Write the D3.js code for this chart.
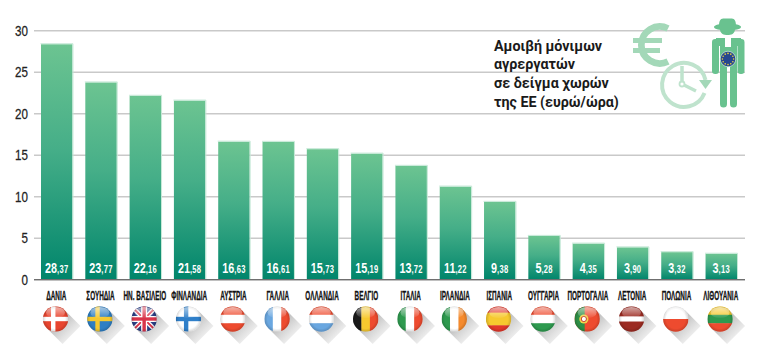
<!DOCTYPE html>
<html><head><meta charset="utf-8">
<script src="https://cdn.jsdelivr.net/npm/d3@7/dist/d3.min.js"></script>
<style>html,body{margin:0;padding:0;background:#fff}svg{display:block}</style>
</head><body><svg id="c" width="778" height="362"></svg>
<script>
const categories=["ΔΑΝΙΑ","ΣΟΥΗΔΙΑ","ΗΝ. ΒΑΣΙΛΕΙΟ","ΦΙΝΛΑΝΔΙΑ","ΑΥΣΤΡΙΑ","ΓΑΛΛΙΑ","ΟΛΛΑΝΔΙΑ","ΒΕΛΓΙΟ","ΙΤΑΛΙΑ","ΙΡΛΑΝΔΙΑ","ΙΣΠΑΝΙΑ","ΟΥΓΓΑΡΙΑ","ΠΟΡΤΟΓΑΛΙΑ","ΛΕΤΟΝΙΑ","ΠΟΛΩΝΙΑ","ΛΙΘΟΥΑΝΙΑ"];
const values=[28.37,23.77,22.16,21.58,16.63,16.61,15.73,15.19,13.72,11.22,9.38,5.28,4.35,3.90,3.32,3.13];
const yTicks=[0,5,10,15,20,25,30];
const titleLines=["Αμοιβή μόνιμων","αγρεργατών","σε δείγμα χωρών","της ΕΕ (ευρώ/ώρα)"];
const flagKinds=["cross","cross","uk","cross","h","v","h","v","v","v","h","h","pt","h","h","h"];
const flagColors=[["#e8452f","#fff"],["#2e7fc4","#f6c92f"],[],["#fff","#2f7fc9"],["#ee4b2f","#fff","#ee4b2f"],["#6aa7e0","#fff","#ee4b2f"],["#ee4b2f","#fff","#6aa7e0"],["#1a1a1a","#f6c92f","#ee4b2f"],["#2e9a4f","#fff","#ee4b2f"],["#2e9a4f","#fff","#f58a2c"],["#e2362a","#f6c92f","#e2362a"],["#ee4b2f","#fff","#2e9a4f"],["#2e8f46","#ee4b2f"],["#9c2b22","#fff","#9c2b22"],["#fff","#ee4b2f"],["#f6c92f","#2e9a4f","#ee4b2f"]];
const flagWeights={10:[1,2,1],13:[2,1,2]};

const svg=d3.select("#c");
const defs=svg.append("defs");
const y=d3.scaleLinear().domain([0,30]).range([279.7,30.7]);
const x=d3.scaleBand().domain(categories).range([41,737]).paddingInner(0.29);
const narrow="'Liberation Sans Narrow','Liberation Sans',sans-serif";

const g=defs.append("linearGradient").attr("id","bar").attr("x1",0).attr("x2",0).attr("y1",0).attr("y2",1);
g.append("stop").attr("offset",0).attr("stop-color","#6cc491");
g.append("stop").attr("offset",.45).attr("stop-color","#45ae88");
g.append("stop").attr("offset",1).attr("stop-color","#00856b");
const sh=defs.append("linearGradient").attr("id","shadow").attr("x1",0).attr("x2",1).attr("y1",0).attr("y2",1);
sh.append("stop").attr("offset",.4).attr("stop-color","#888").attr("stop-opacity",.5);
sh.append("stop").attr("offset",.95).attr("stop-color","#aaa").attr("stop-opacity",0);
const gl=defs.append("linearGradient").attr("id","gloss").attr("x1",0).attr("x2",0).attr("y1",0).attr("y2",1);
gl.append("stop").attr("offset",0).attr("stop-color","#fff").attr("stop-opacity",.6);
gl.append("stop").attr("offset",1).attr("stop-color","#fff").attr("stop-opacity",.05);
const rim=defs.append("radialGradient").attr("id","rim");
rim.append("stop").attr("offset",.75).attr("stop-color","#000").attr("stop-opacity",0);
rim.append("stop").attr("offset",1).attr("stop-color","#000").attr("stop-opacity",.16);
defs.append("clipPath").attr("id","disc").append("circle").attr("r",12.7);

// grid
svg.append("g").selectAll("line").data(yTicks).join("line")
  .attr("x1",34).attr("x2",745).attr("y1",d=>y(d)).attr("y2",d=>y(d))
  .attr("stroke",d=>d===0?"#6f6f6f":"#c9c9c9").attr("stroke-width",d=>d===0?1.2:1.4);
svg.append("g").selectAll("text").data(yTicks).join("text")
  .attr("transform",d=>`translate(28,${y(d)+5}) scale(.8,1)`)
  .attr("text-anchor","end").attr("font-family",narrow).attr("font-size",14.5).attr("fill","#222")
  .attr("stroke","#222").attr("stroke-width",.25).text(d=>d);

// bars
svg.append("g").selectAll("rect").data(values).join("rect")
  .attr("x",(d,i)=>x(categories[i])).attr("width",x.bandwidth())
  .attr("y",d=>y(d)).attr("height",d=>y(0)-y(d)).attr("fill","url(#bar)");
svg.append("g").selectAll("path").data(values).join("path")
  .attr("d",(d,i)=>{const a=x(categories[i])+x.bandwidth()+.5;return `M${a-x.bandwidth()-1} ${y(d)-.5}H${a}V${y(0)}`})
  .attr("fill","none").attr("stroke","#c4e8d6").attr("stroke-width",1);
svg.append("line").attr("x1",34).attr("x2",745).attr("y1",y(0)).attr("y2",y(0)).attr("stroke","#6f6f6f").attr("stroke-width",1.2);

// value labels
const vl=svg.append("g").selectAll("text").data(values).join("text")
  .attr("transform",(d,i)=>`translate(${x(categories[i])+x.bandwidth()/2},273) scale(.72,1)`)
  .attr("text-anchor","middle").attr("font-family",narrow).attr("font-weight",700).attr("fill","#fff");
vl.append("tspan").attr("font-size",15).text(d=>d.toFixed(2).split(".")[0]);
vl.append("tspan").attr("font-size",10.5).attr("letter-spacing",.4).text(d=>","+d.toFixed(2).split(".")[1]);

// category labels
svg.append("g").selectAll("text").data(categories).join("text")
  .attr("transform",(d,i)=>`translate(${x(d)+x.bandwidth()/2-.5},300.3) scale(.53,1)`)
  .attr("text-anchor","middle").attr("font-family",narrow).attr("font-weight",700).attr("font-size",12)
  .attr("fill","#111").attr("stroke","#111").attr("stroke-width",.3).text(d=>d);

// flags
const R=12.7;
const flags=svg.append("g").selectAll("g").data(categories).join("g")
  .attr("transform",d=>`translate(${x(d)+x.bandwidth()/2-1.2},319)`);
flags.each(function(d,i){
  const f=d3.select(this), k=flagKinds[i], c=flagColors[i];
  const q=R*Math.SQRT1_2, L=16;
  f.append("path").attr("d",`M${q} ${-q}L${q+L} ${-q+L}L${-q+L} ${q+L}L${-q} ${q}Z`).attr("fill","url(#shadow)");
  const b=f.append("g").attr("clip-path","url(#disc)");
  if(k==="h"||k==="v"){
    const w=flagWeights[i]||c.map(()=>1), t=d3.sum(w); let p=-R;
    c.forEach((col,j)=>{const s=2*R*w[j]/t;
      if(k==="h")b.append("rect").attr("x",-R).attr("y",p).attr("width",2*R).attr("height",s+.3).attr("fill",col);
      else b.append("rect").attr("x",p).attr("y",-R).attr("width",s+.3).attr("height",2*R).attr("fill",col);
      p+=s;});
  } else if(k==="cross"){
    b.append("rect").attr("x",-R).attr("y",-R).attr("width",2*R).attr("height",2*R).attr("fill",c[0]);
    b.append("rect").attr("x",-R).attr("y",-2.2).attr("width",2*R).attr("height",4.4).attr("fill",c[1]);
    b.append("rect").attr("x",-4.5).attr("y",-R).attr("width",4.4).attr("height",2*R).attr("fill",c[1]);
  } else if(k==="uk"){
    b.append("rect").attr("x",-R).attr("y",-R).attr("width",2*R).attr("height",2*R).attr("fill","#2b3f86");
    [[-R,-R,R,R],[-R,R,R,-R]].forEach(a=>{
      b.append("line").attr("x1",a[0]).attr("y1",a[1]).attr("x2",a[2]).attr("y2",a[3]).attr("stroke","#fff").attr("stroke-width",4.5);
      b.append("line").attr("x1",a[0]).attr("y1",a[1]).attr("x2",a[2]).attr("y2",a[3]).attr("stroke","#d8344a").attr("stroke-width",1.8);});
    b.append("rect").attr("x",-R).attr("y",-3).attr("width",2*R).attr("height",6).attr("fill","#fff");
    b.append("rect").attr("x",-3).attr("y",-R).attr("width",6).attr("height",2*R).attr("fill","#fff");
    b.append("rect").attr("x",-R).attr("y",-1.7).attr("width",2*R).attr("height",3.4).attr("fill","#d8344a");
    b.append("rect").attr("x",-1.7).attr("y",-R).attr("width",3.4).attr("height",2*R).attr("fill","#d8344a");
  } else {
    b.append("rect").attr("x",-R).attr("y",-R).attr("width",2*R).attr("height",2*R).attr("fill",c[1]);
    b.append("rect").attr("x",-R).attr("y",-R).attr("width",R-2.5).attr("height",2*R).attr("fill",c[0]);
    b.append("circle").attr("cx",-3.3).attr("r",4.6).attr("fill","#f3d34a");
    b.append("circle").attr("cx",-3.3).attr("r",2.6).attr("fill","#fff").attr("stroke","#c8402c").attr("stroke-width",1);
  }
  b.append("circle").attr("r",R).attr("fill","url(#rim)");
  b.append("ellipse").attr("cy",-6.5).attr("rx",9.5).attr("ry",5.5).attr("fill","url(#gloss)");
});

// title
svg.append("g").selectAll("text").data(titleLines).join("text")
  .attr("x",494).attr("y",(d,i)=>50.5+i*18.7)
  .attr("font-family","Roboto,'Liberation Sans',sans-serif").attr("font-weight",700)
  .attr("font-size",14.3).attr("fill","#1a1a1a").text(d=>d);

// icons
const ic=svg.append("g");
const C1="#a3d8b8",C2="#bfe3cd",C3="#69c28f";
ic.append("path").attr("d","M668 28.4A18.5 18.5 0 1 0 668 61.6").attr("fill","none").attr("stroke",C1).attr("stroke-width",6.7);
ic.append("rect").attr("x",633).attr("y",38).attr("width",29).attr("height",5).attr("fill",C1);
ic.append("rect").attr("x",633).attr("y",48).attr("width",27).attr("height",5).attr("fill",C1);
ic.append("path").attr("d","M705.5 80A22 22 0 1 0 704.5 93").attr("fill","none").attr("stroke",C2).attr("stroke-width",4);
ic.append("path").attr("d","M699 80H712L705.5 89Z").attr("fill",C1);
ic.append("path").attr("d","M682 66V84L696 91").attr("fill","none").attr("stroke",C2).attr("stroke-width",3.5);
ic.append("circle").attr("cx",682).attr("cy",84).attr("r",2.5).attr("fill","#fff").attr("stroke",C2).attr("stroke-width",1.8);
// farmer
ic.append("ellipse").attr("cx",727.5).attr("cy",27).attr("rx",13.5).attr("ry",3.6).attr("fill",C3);
ic.append("path").attr("d","M719 26C719 17 723 18.5 727.5 18.5S736 17 736 26Z").attr("fill",C3);
ic.append("path").attr("d","M720 29H735C735 34 731 35 727.5 35S720 34 720 29Z").attr("fill",C3);
ic.append("rect").attr("x",712).attr("y",39).attr("width",7).attr("height",35).attr("rx",3.2).attr("fill",C3);
ic.append("rect").attr("x",737.5).attr("y",39).attr("width",7).attr("height",35).attr("rx",3.2).attr("fill",C3);
ic.append("path").attr("d","M716 38H725V47H731V38H741V46H737V104A3.5 3.5 0 0 1 730 104V67H727V104A3.5 3.5 0 0 1 720 104V46H716Z").attr("fill",C3);
ic.append("circle").attr("cx",728).attr("cy",59).attr("r",7.8).attr("fill","#26478f").attr("stroke","#c9e6d4").attr("stroke-width",.8);
ic.append("g").selectAll("circle").data(d3.range(12)).join("circle")
  .attr("cx",d=>728+5.6*Math.cos(d*Math.PI/6)).attr("cy",d=>59+5.6*Math.sin(d*Math.PI/6)).attr("r",.8).attr("fill","#f2d23a");
</script></body></html>
